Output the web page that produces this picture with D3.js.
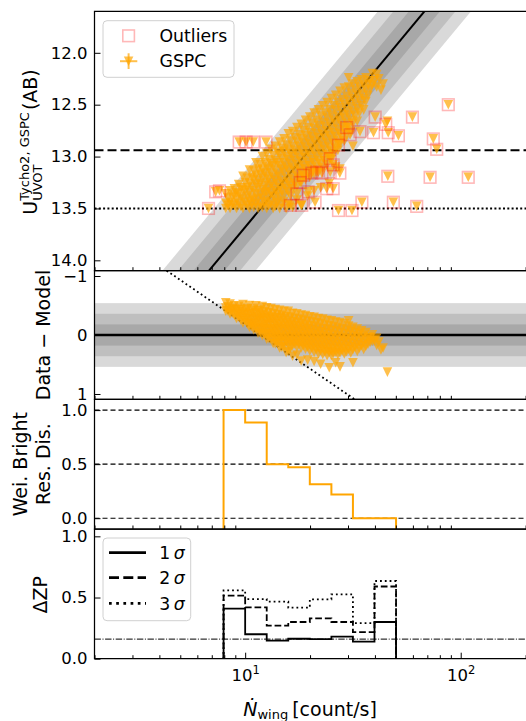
<!DOCTYPE html>
<html>
<head>
<meta charset="utf-8">
<script src="https://cdn.jsdelivr.net/npm/d3@7"></script>
<style>
  body { margin: 0; background: #fff; }
  text { font-family: "DejaVu Sans", sans-serif; }
</style>
</head>
<body>
<script>
// ---- data ----
const xDomain = [2, 200];
const fitZP = 16.18, fitSlope = -2.5, fitSigma = 0.18;
const brightLimit = 12.94, satLimit = 13.5, zpFloor = 0.16;

// GSPC stars kept in the fit: count rate per column, magnitudes in that column
const inRate = [8.13, 8.32, 8.51, 8.71, 8.91, 9.12, 9.33, 9.55, 9.77, 10.0,
  10.23, 10.47, 10.72, 10.96, 11.22, 11.48, 11.75, 12.02, 12.30, 12.59,
  12.88, 13.18, 13.49, 13.80, 14.13, 14.45, 14.79, 15.14, 15.49, 15.85,
  16.22, 16.60, 16.98, 17.38, 17.78, 18.20, 18.62, 19.05, 19.50, 19.95,
  20.42, 20.89, 21.38, 21.88, 22.39, 22.91, 23.44, 23.99, 24.55, 25.12,
  25.70, 26.30, 26.92, 27.54, 28.18, 28.84, 29.51, 30.20, 30.90, 31.62,
  32.36, 33.11, 33.88, 34.67, 35.48, 36.31, 37.15, 38.02, 38.90, 39.81,
  40.74, 41.69, 42.66, 43.65, 45.71];
const inMag = [
  [13.36, 13.45, 13.5], [13.40, 13.47], [13.33, 13.44, 13.5], [13.39, 13.46],
  [13.31, 13.37, 13.47], [13.35, 13.42, 13.5], [13.27, 13.36, 13.45], [13.3, 13.39, 13.48],
  [13.19, 13.32, 13.41, 13.5], [13.25, 13.33, 13.44], [13.21, 13.3, 13.38, 13.47],
  [13.13, 13.26, 13.35, 13.43, 13.5], [13.2, 13.29, 13.4, 13.46], [13.14, 13.22, 13.33, 13.42, 13.49],
  [13.06, 13.18, 13.27, 13.36, 13.45], [13.12, 13.23, 13.3, 13.41, 13.5],
  [13.08, 13.17, 13.26, 13.37, 13.47], [13.0, 13.13, 13.21, 13.32, 13.4, 13.49],
  [13.06, 13.16, 13.28, 13.35, 13.44], [12.97, 13.1, 13.19, 13.25, 13.34, 13.43, 13.5],
  [13.03, 13.12, 13.22, 13.31, 13.39, 13.47], [12.93, 13.07, 13.16, 13.27, 13.36, 13.45],
  [12.99, 13.09, 13.2, 13.29, 13.38, 13.5], [12.9, 13.04, 13.13, 13.23, 13.33, 13.42, 13.48],
  [12.96, 13.06, 13.17, 13.26, 13.35, 13.44], [12.86, 12.98, 13.09, 13.19, 13.3, 13.39, 13.5],
  [12.92, 13.02, 13.12, 13.24, 13.33, 13.46], [12.83, 12.95, 13.06, 13.15, 13.27, 13.37, 13.43],
  [12.89, 13.0, 13.1, 13.21, 13.31, 13.5], [12.78, 12.93, 13.03, 13.13, 13.25, 13.34, 13.46],
  [12.85, 12.97, 13.07, 13.18, 13.28, 13.38], [12.76, 12.9, 13.0, 13.11, 13.22, 13.31, 13.49],
  [12.82, 12.94, 13.04, 13.14, 13.26], [12.72, 12.86, 12.97, 13.08, 13.19, 13.29, 13.42],
  [12.79, 12.9, 13.01, 13.12, 13.21], [12.69, 12.83, 12.94, 13.05, 13.15, 13.25, 13.47],
  [12.75, 12.87, 12.98, 13.09, 13.19], [12.65, 12.8, 12.91, 13.01, 13.12, 13.22],
  [12.72, 12.84, 12.95, 13.06, 13.16, 13.38], [12.62, 12.77, 12.88, 12.99, 13.09, 13.2],
  [12.68, 12.81, 12.92, 13.03, 13.13], [12.58, 12.73, 12.85, 12.96, 13.06, 13.17, 13.33],
  [12.65, 12.78, 12.89, 13.0, 13.1], [12.55, 12.7, 12.82, 12.93, 13.04, 13.15],
  [12.61, 12.75, 12.86, 12.97, 13.07, 13.3], [12.51, 12.67, 12.79, 12.9, 13.01, 13.11],
  [12.58, 12.71, 12.83, 12.94, 13.04], [12.48, 12.63, 12.76, 12.87, 12.98, 13.08],
  [12.55, 12.68, 12.8, 12.91, 13.0, 13.26], [12.44, 12.6, 12.73, 12.84, 12.95, 13.03],
  [12.51, 12.65, 12.77, 12.88, 12.97], [12.41, 12.56, 12.69, 12.81, 12.92, 13.1],
  [12.48, 12.62, 12.74, 12.85, 12.94], [12.37, 12.53, 12.66, 12.78, 12.88, 13.12],
  [12.45, 12.59, 12.71, 12.82], [12.34, 12.5, 12.63, 12.75, 12.85],
  [12.42, 12.56, 12.68, 12.79], [12.24, 12.33, 12.47, 12.6, 12.72],
  [12.39, 12.52, 12.65, 12.76], [12.3, 12.44, 12.57, 12.68, 12.9],
  [12.36, 12.49, 12.61], [12.28, 12.41, 12.54, 12.66], [12.33, 12.46, 12.58],
  [12.26, 12.39, 12.51], [12.31, 12.44, 12.55], [12.24, 12.36, 12.47],
  [12.3, 12.41], [12.27, 12.35], [12.2, 12.31], [12.27],
  [12.21, 12.33], [12.25], [12.36], [12.3], [12.66]
];

// rejected stars (square markers)
const outRate = [87.6, 59.7, 40.1, 44.9, 74.6, 77.4, 45.9, 72.1, 108.4, 48.7,
  62.5, 34.8, 31.3, 27.1, 25.6, 51.4, 46.1, 39.4, 34.1, 30.7,
  29.6, 27.1, 24.8, 25.6, 20.4, 22.7, 18.6, 18.0, 21.5, 24.8,
  27.5, 17.4, 19.6, 23.9, 16.2, 18.3, 21.1, 6.76, 7.3, 7.6,
  9.38, 10.1, 10.9, 12.5];
const outMag = [12.50, 12.62, 12.62, 12.69, 12.83, 12.93, 13.19, 13.20, 13.20, 13.44,
  13.48, 13.44, 13.52, 13.52, 13.31, 12.80, 12.77, 12.77, 12.76, 12.79,
  12.72, 12.89, 13.02, 13.08, 13.16, 13.16, 13.18, 13.25, 13.15, 13.15,
  13.16, 13.36, 13.34, 13.31, 13.47, 13.47, 13.44, 13.50, 13.34, 13.33,
  12.86, 12.86, 12.86, 12.86];

// binned panels
const binEdges = [7.94, 10.0, 12.59, 15.85, 19.95, 25.12, 31.62, 39.81, 50.12];
const brightFrac = [1.0, 0.886, 0.5, 0.471, 0.313, 0.22, 0, 0];
const dzp1 = [0.41, 0.20, 0.147, 0.163, 0.16, 0.18, 0.139, 0.30];
const dzp2 = [0.515, 0.42, 0.27, 0.30, 0.33, 0.30, 0.218, 0.59];
const dzp3 = [0.558, 0.487, 0.466, 0.417, 0.485, 0.526, 0.29, 0.635];

const magTicks = [12.0, 12.5, 13.0, 13.5, 14.0];
const residTicks = [-1, 0, 1];
const fracTicks = [0, 0.5, 1.0];
const minorRates = [2, 3, 4, 5, 6, 7, 8, 9, 20, 30, 40, 50, 60, 70, 80, 90, 200];
const majorRates = [10, 100];

// ---- layout ----
const L = 94.5, R = 525.6;
const rows = [[11.3, 270.7], [270.7, 399.3], [399.3, 529.0], [529.0, 658.7]];
const model = r => fitZP + fitSlope * Math.log10(r);

const svg = d3.select("body").append("svg")
    .attr("width", 526).attr("height", 721);

const x = d3.scaleLog().domain(xDomain).range([L, R]);
const y1 = d3.scaleLinear().domain([11.6, 14.1]).range(rows[0]);
const y2 = d3.scaleLinear().domain([-1.09, 1.09]).range(rows[1]);
const y3 = d3.scaleLinear().domain([1.1, -0.1]).range(rows[2]);
const y4 = d3.scaleLinear().domain([1.06, 0]).range(rows[3]);

const defs = svg.append("defs");
rows.forEach((r, i) => {
    defs.append("clipPath").attr("id", "clip" + i).append("rect")
        .attr("x", L).attr("y", r[0]).attr("width", R - L + 2).attr("height", r[1] - r[0]);
});
const panel = rows.map((r, i) => svg.append("g").attr("clip-path", `url(#clip${i})`));

const inliers = inRate.flatMap((r, i) => inMag[i].map(m => ({rate: r, mag: m})));
const outliers = outRate.map((r, i) => ({rate: r, mag: outMag[i]}));
const allStars = inliers.concat(outliers);

const tri = "M-4.8,-4.8L4.8,-4.8L0,4.8Z";
const bandFill = {3: "#d9d9d9", 2: "#bfbfbf", 1: "#a8a8a8"};

function hline(g, yv, dash, width) {
    g.append("line").attr("x1", L).attr("x2", R + 2).attr("y1", yv).attr("y2", yv)
        .attr("stroke", "#000").attr("stroke-width", width)
        .attr("stroke-dasharray", dash);
}

// ---- panel 1: magnitude vs count rate ----
[3, 2, 1].forEach(k => {
    panel[0].append("path").datum(xDomain)
        .attr("d", d3.area()
            .x(r => x(r))
            .y0(r => y1(model(r) - k * fitSigma))
            .y1(r => y1(model(r) + k * fitSigma)))
        .attr("fill", bandFill[k]);
});
panel[0].append("path").datum(xDomain)
    .attr("d", d3.line().x(r => x(r)).y(r => y1(model(r))))
    .attr("stroke", "#000").attr("stroke-width", 2).attr("fill", "none");
hline(panel[0], y1(brightLimit), "9,4", 2);
hline(panel[0], y1(satLimit), "2,2.3", 2);

panel[0].selectAll("path.star").data(allStars).join("path")
    .attr("class", "star")
    .attr("d", tri)
    .attr("transform", d => `translate(${x(d.rate)},${y1(d.mag)})`)
    .attr("fill", "orange").attr("fill-opacity", 0.7);

panel[0].selectAll("rect.out").data(outliers).join("rect")
    .attr("class", "out")
    .attr("x", d => x(d.rate) - 5.8).attr("y", d => y1(d.mag) - 5.8)
    .attr("width", 11.6).attr("height", 11.6)
    .attr("fill", "none").attr("stroke", "red")
    .attr("stroke-opacity", 0.28).attr("stroke-width", 1.6);

// ---- panel 2: residuals ----
[3, 2, 1].forEach(k => {
    panel[1].append("rect")
        .attr("x", L).attr("width", R - L + 2)
        .attr("y", y2(-k * fitSigma)).attr("height", y2(k * fitSigma) - y2(-k * fitSigma))
        .attr("fill", bandFill[k]);
});
hline(panel[1], y2(0), null, 2.5);
panel[1].append("path").datum(xDomain)
    .attr("d", d3.line().x(r => x(r)).y(r => y2(satLimit - model(r))))
    .attr("stroke", "#000").attr("stroke-width", 1.8).attr("fill", "none")
    .attr("stroke-dasharray", "1.8,2.8");
panel[1].selectAll("path.res").data(inliers).join("path")
    .attr("class", "res")
    .attr("d", tri)
    .attr("transform", d => `translate(${x(d.rate)},${y2(d.mag - model(d.rate))})`)
    .attr("fill", "orange").attr("fill-opacity", 0.7);

// ---- panel 3: weighted bright residual distribution ----
fracTicks.forEach(v => hline(panel[2], y3(v), "5,3", 1.1));
function stepPoints(vals, base) {
    const pts = [[binEdges[0], base]];
    vals.forEach((v, i) => { pts.push([binEdges[i], v], [binEdges[i + 1], v]); });
    pts.push([binEdges[binEdges.length - 1], base]);
    return pts;
}
panel[2].append("path").datum(stepPoints(brightFrac, -0.5))
    .attr("d", d3.line().x(d => x(d[0])).y(d => y3(d[1])))
    .attr("fill", "none").attr("stroke", "#ffa500").attr("stroke-width", 2);

// ---- panel 4: delta ZP ----
hline(panel[3], y4(zpFloor), "6.4,1.6,1,1.6", 1);
const zpLine = d3.line().x(d => x(d[0])).y(d => y4(d[1]));
[[dzp1, null], [dzp2, "6.7,2.9"], [dzp3, "1.8,3"]].forEach(([vals, dash]) => {
    panel[3].append("path").datum(stepPoints(vals, 0))
        .attr("d", zpLine)
        .attr("fill", "none").attr("stroke", "#000").attr("stroke-width", 1.8)
        .attr("stroke-dasharray", dash);
});

// ---- frames and axes ----
rows.forEach(r => {
    svg.append("path")
        .attr("d", `M${R + 3},${r[0]}H${L}V${r[1]}H${R + 3}`)
        .attr("fill", "none").attr("stroke", "#000").attr("stroke-width", 1.25);
});

function styleAxis(g) {
    g.select(".domain").remove();
    g.selectAll("text").attr("font-size", 16.5).attr("fill", "#000")
        .attr("font-family", "DejaVu Sans, sans-serif");
    g.selectAll("line").attr("stroke-width", 1);
}
const fmt1 = d3.format(".1f");
const fmtRes = d => d < 0 ? "\u2212" + Math.abs(d) : String(d);
[[y1, magTicks, fmt1], [y2, residTicks, fmtRes], [y3, fracTicks, fmt1], [y4, fracTicks, fmt1]]
    .forEach(([s, vals, f]) => {
        svg.append("g").attr("transform", `translate(${L},0)`)
            .call(d3.axisLeft(s).tickValues(vals).tickFormat(f).tickSize(-6).tickPadding(7))
            .call(styleAxis);
    });

rows.forEach(r => {
    svg.append("g").attr("transform", `translate(0,${r[1]})`)
        .call(d3.axisBottom(x).tickValues(minorRates).tickFormat("").tickSize(-3.5))
        .call(styleAxis);
});
const xMajor = svg.append("g").attr("transform", `translate(0,${rows[3][1]})`)
    .call(d3.axisBottom(x).tickValues(majorRates).tickFormat("").tickSize(-6).tickPadding(10.5))
    .call(styleAxis);
xMajor.selectAll(".tick").each(function(d) {
    const t = d3.select(this).append("text")
        .attr("y", 22.5).attr("text-anchor", "middle")
        .attr("font-size", 16.5).attr("fill", "#000");
    t.append("tspan").text("10");
    t.append("tspan").attr("dy", -7).attr("font-size", 11.5).text(Math.round(Math.log10(d)));
});

// ---- legends ----
const leg1 = svg.append("g");
leg1.append("rect").attr("x", 103).attr("y", 20.7).attr("width", 131).attr("height", 56.6)
    .attr("rx", 4).attr("fill", "#fff").attr("fill-opacity", 0.8)
    .attr("stroke", "#d0d0d0").attr("stroke-width", 1);
leg1.append("rect").attr("x", 128.6 - 5.8).attr("y", 35.8 - 5.8).attr("width", 11.6).attr("height", 11.6)
    .attr("fill", "none").attr("stroke", "red").attr("stroke-opacity", 0.28).attr("stroke-width", 1.6);
leg1.append("line").attr("x1", 120).attr("x2", 137.3).attr("y1", 61.2).attr("y2", 61.2)
    .attr("stroke", "orange").attr("stroke-opacity", 0.7).attr("stroke-width", 2);
leg1.append("line").attr("x1", 128.6).attr("x2", 128.6).attr("y1", 53.3).attr("y2", 69)
    .attr("stroke", "orange").attr("stroke-opacity", 0.7).attr("stroke-width", 2);
leg1.append("path").attr("d", tri).attr("transform", "translate(128.6,61.2)")
    .attr("fill", "orange").attr("fill-opacity", 0.7);
leg1.append("text").attr("x", 159.5).attr("y", 41.8).attr("font-size", 17.3).text("Outliers");
leg1.append("text").attr("x", 159.5).attr("y", 67.4).attr("font-size", 17.3).text("GSPC");

const leg2 = svg.append("g");
leg2.append("rect").attr("x", 103).attr("y", 538).attr("width", 87.7).attr("height", 82.7)
    .attr("rx", 4).attr("fill", "#fff").attr("fill-opacity", 0.8)
    .attr("stroke", "#d0d0d0").attr("stroke-width", 1);
[["1", 552.7, null], ["2", 577.7, "10,4.3"], ["3", 603.3, "2.7,4.5"]].forEach(([n, yy, dash]) => {
    leg2.append("line").attr("x1", 109).attr("x2", 146).attr("y1", yy).attr("y2", yy)
        .attr("stroke", "#000").attr("stroke-width", 2.7).attr("stroke-dasharray", dash);
    const t = leg2.append("text").attr("x", 159.3).attr("y", yy + 6.3).attr("font-size", 17.3);
    t.append("tspan").text(n + "\u2009");
    t.append("tspan").attr("font-style", "italic").text("\u03c3");
});

// ---- axis labels ----
const labelSize = 19;
const yl1 = svg.append("g").attr("transform", "translate(36.7,142) rotate(-90)");
const tU = yl1.append("text").attr("font-size", labelSize).text("U");
const tSup = yl1.append("text").attr("font-size", 13).attr("y", -8).text("Tycho2, GSPC");
const tSub = yl1.append("text").attr("font-size", 13).attr("y", 4.8).text("UVOT");
const tAB = yl1.append("text").attr("font-size", labelSize).text("(AB)");
const wU = tU.node().getComputedTextLength();
const wS = Math.max(tSup.node().getComputedTextLength(), tSub.node().getComputedTextLength());
const wAB = tAB.node().getComputedTextLength();
const x0 = -(wU + wS + 2 + wAB) / 2;
tU.attr("x", x0);
tSup.attr("x", x0 + wU);
tSub.attr("x", x0 + wU);
tAB.attr("x", x0 + wU + wS + 2);

function rotLabel(bx, cy, txt) {
    svg.append("text").attr("transform", `translate(${bx},${cy}) rotate(-90)`)
        .attr("text-anchor", "middle").attr("font-size", labelSize).text(txt);
}
rotLabel(50, (rows[1][0] + rows[1][1]) / 2, "Data \u2212 Model");
rotLabel(27.2, (rows[2][0] + rows[2][1]) / 2, "Wei. Bright");
rotLabel(49.5, (rows[2][0] + rows[2][1]) / 2, "Res. Dis.");
rotLabel(46.5, (rows[3][0] + rows[3][1]) / 2 + 1, "\u0394ZP");

const xl = svg.append("text").attr("x", (L + R) / 2).attr("y", 715.5)
    .attr("text-anchor", "middle").attr("font-size", labelSize);
xl.append("tspan").attr("font-style", "italic").text("\u1e44");
xl.append("tspan").attr("font-size", 13).attr("dy", 3.8).text("wing");
xl.append("tspan").attr("dy", -3.8).attr("dx", 4).text("[count/s]");
</script>
</body>
</html>
